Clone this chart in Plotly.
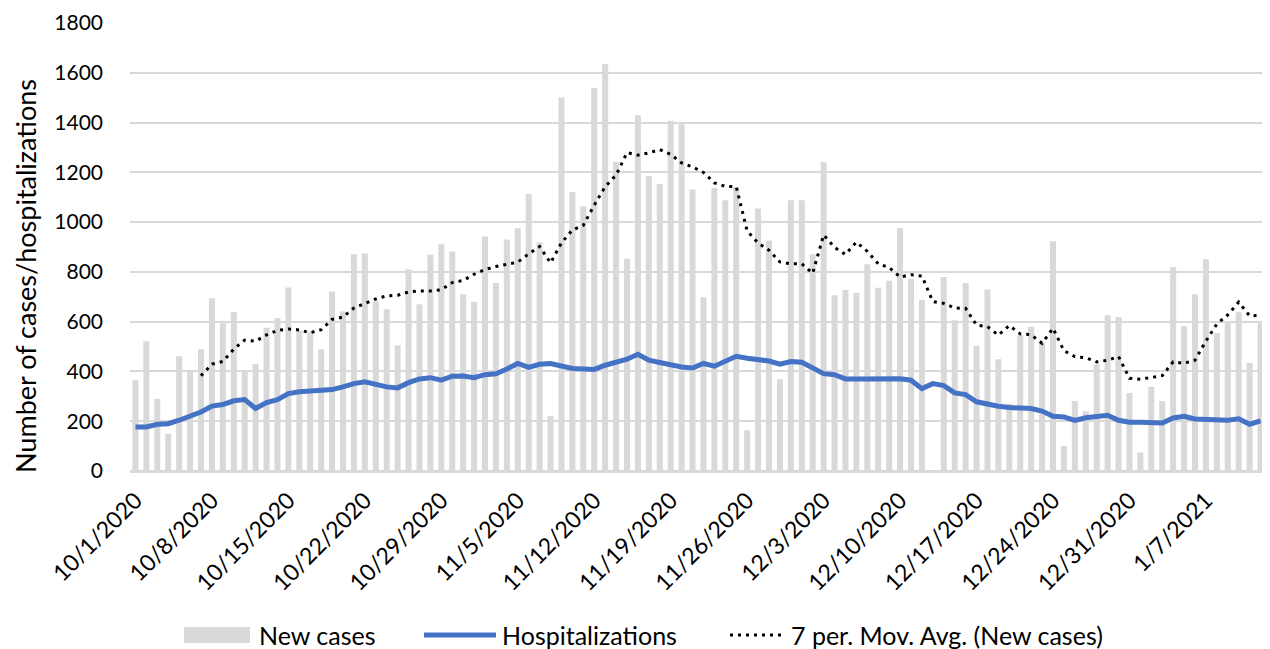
import pandas as pd
import plotly.graph_objects as go

dates = pd.date_range("2020-10-01", "2021-01-12", freq="D")
categories = [f"{d.month}/{d.day}/{d.year}" for d in dates]

new_cases = [
    365, 521, 290, 150, 461, 401, 489, 694, 594, 639,
    405, 430, 576, 615, 737, 566, 560, 489, 721, 641,
    871, 874, 682, 650, 505, 811, 670, 870, 911, 882,
    710, 680, 942, 755, 930, 975, 1113, 918, 221, 1501,
    1121, 1063, 1539, 1635, 1243, 853, 1429, 1185, 1153, 1407,
    1393, 1131, 698, 1137, 1088, 1140, 164, 1055, 926, 369,
    1088, 1088, 871, 1241, 706, 727, 716, 831, 736, 764,
    976, 771, 688, 0, 779, 606, 755, 503, 729, 449,
    270, 546, 580, 516, 923, 100, 281, 240, 429, 626,
    619, 314, 74, 338, 281, 819, 582, 710, 851, 554,
    595, 638, 434, 594,
]

hospitalizations = [
    177, 177, 188, 190, 204, 220, 237, 261, 267, 282,
    287, 251, 275, 287, 311, 318, 322, 328, 327, 338,
    351, 358, 347, 338, 334, 355, 370, 375, 365, 381,
    382, 375, 387, 391, 410, 432, 416, 429, 432, 424,
    412, 410, 408, 425, 438, 449, 469, 445, 436, 425,
    418, 414, 432, 421, 442, 461, 453, 450, 442, 429,
    440, 437, 412, 391, 387, 370, 370, 371, 373, 370,
    371, 365, 331, 351, 343, 314, 307, 278, 268, 260,
    255, 255, 251, 241, 220, 217, 203, 214, 220, 224,
    204, 196, 196, 193, 193, 213, 220, 209, 206, 206,
    204, 210, 188, 201,
]

tick_labels = categories[::7]
legend_labels = ["New cases", "Hospitalizations", "7 per. Mov. Avg. (New cases)"]

# 7-period moving average trendline (as the spreadsheet computes it)
mov_avg = pd.Series(new_cases, dtype=float).rolling(7).mean().tolist()

FONT = "Lato, 'Open Sans', sans-serif"
GRID = "#d9d9d9"
BAR_C = "#d9d9d9"
HOSP_C = "#4472c4"
MA_DASH = "3px,5px"

# the page body has an 8px margin; size the figure so it fills the window
OFF = 8
W, H = 1270 - OFF, 649 - OFF
ML, MR, MT, MB = 122, 4, 15, 178
PW, PH = W - ML - MR, H - MT - MB


def px_x(p):
    """window pixel x -> paper coordinate"""
    return (p - OFF - ML) / PW


def px_y(p):
    """window pixel y -> paper coordinate"""
    return (H - MB - (p - OFF)) / PH


fig = go.Figure()
fig.add_trace(go.Bar(
    x=categories, y=new_cases, name=legend_labels[0],
    marker=dict(color=BAR_C, line=dict(width=0)),
))
fig.add_trace(go.Scatter(
    x=categories, y=hospitalizations, name=legend_labels[1], mode="lines",
    line=dict(color=HOSP_C, width=5),
))
fig.add_trace(go.Scatter(
    x=categories, y=mov_avg, name=legend_labels[2], mode="lines",
    line=dict(color="#000000", width=3, dash=MA_DASH),
))

# legend drawn below the plot as in the spreadsheet chart
LEG_Y = 635
shapes = [
    dict(type="rect", xref="paper", yref="paper",
         x0=px_x(184), x1=px_x(250), y0=px_y(LEG_Y + 8), y1=px_y(LEG_Y - 8),
         fillcolor=BAR_C, line=dict(width=0)),
    dict(type="line", xref="paper", yref="paper",
         x0=px_x(424), x1=px_x(496), y0=px_y(LEG_Y), y1=px_y(LEG_Y),
         line=dict(color=HOSP_C, width=5)),
    dict(type="line", xref="paper", yref="paper",
         x0=px_x(730), x1=px_x(786), y0=px_y(LEG_Y), y1=px_y(LEG_Y),
         line=dict(color="#000000", width=3, dash=MA_DASH)),
]
annotations = [
    dict(text=legend_labels[0], x=px_x(257), y=px_y(LEG_Y)),
    dict(text=legend_labels[1], x=px_x(500), y=px_y(LEG_Y)),
    dict(text=legend_labels[2], x=px_x(789), y=px_y(LEG_Y)),
]
annotations = [dict(a, xref="paper", yref="paper", xanchor="left", yanchor="middle",
                    showarrow=False, font=dict(size=25)) for a in annotations]
annotations.append(dict(
    text="Number of cases/hospitalizations", xref="paper", yref="paper",
    x=px_x(25), y=px_y(276), xanchor="center", yanchor="middle", textangle=-90,
    showarrow=False, font=dict(size=27),
))

fig.update_layout(
    width=W, height=H,
    margin=dict(l=ML, r=MR, t=MT, b=MB),
    paper_bgcolor="white", plot_bgcolor="white",
    font=dict(family=FONT, size=22, color="#000000"),
    bargap=0.45,
    showlegend=False,
    shapes=shapes,
    annotations=annotations,
    xaxis=dict(
        type="category", tickmode="array", tickvals=tick_labels, ticktext=tick_labels,
        tickangle=-45, tickfont=dict(size=23), showgrid=False, ticks="",
        showline=True, linecolor=GRID, linewidth=1.5, automargin=False,
        ticklabelstandoff=5,
        range=[-0.5, len(categories) - 0.5],
    ),
    yaxis=dict(
        range=[0, 1800], dtick=200, showgrid=True, gridcolor=GRID, gridwidth=1.5,
        zeroline=True, zerolinecolor=GRID, zerolinewidth=1.5,
        tickfont=dict(size=21), ticks="", automargin=False, ticklabelstandoff=26,
    ),
)

fig.write_html("out.html")
